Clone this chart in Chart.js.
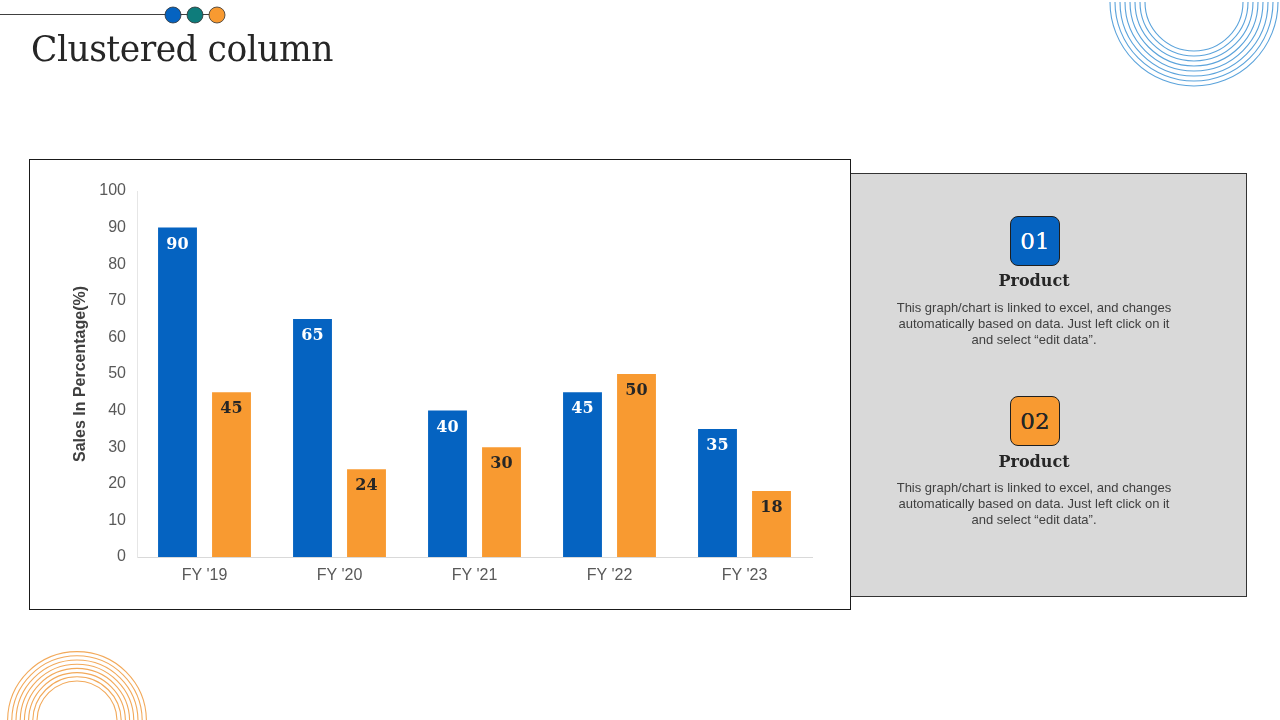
<!DOCTYPE html>
<html>
<head>
<meta charset="utf-8">
<script src="https://cdn.jsdelivr.net/npm/chart.js@4.4.0/dist/chart.umd.min.js"></script>
<style>
  html, body { margin:0; padding:0; background:#fff; }
  body { width:1280px; height:720px; position:relative; overflow:hidden; font-family:"Liberation Sans", Arial, sans-serif; }
  #deco { position:absolute; left:0; top:0; }
  .title { position:absolute; left:31px; top:29px; font-family:"DejaVu Serif", serif; font-size:34.5px; color:#262626; letter-spacing:-0.5px; }
  .chartbox { position:absolute; left:29px; top:159px; width:820px; height:449px; border:1px solid #1a1a1a; background:#fff; }
  .chartbox canvas { position:absolute; left:0; top:0; }
  .panel { position:absolute; left:851px; top:173px; width:395px; height:422px; background:#d9d9d9; border:1px solid #333; border-left:none; }
  .badge { position:absolute; width:48px; height:48px; border:1px solid #1f1f1f; border-radius:8px; font-family:"DejaVu Serif", serif; font-size:23px; text-align:center; line-height:48px; text-shadow:0 0 0.6px currentColor; }
  .prod { position:absolute; width:396px; left:-15px; text-align:center; font-family:"DejaVu Serif", serif; font-weight:bold; font-size:16px; color:#262626; }
  .desc { position:absolute; width:396px; left:-15px; text-align:center; font-size:13px; line-height:16px; color:#404040; }
</style>
</head>
<body>
<canvas id="deco" width="1280" height="720"></canvas>
<div class="title">Clustered column</div>
<div class="chartbox"><canvas id="c" width="820" height="449" style="width:820px;height:449px;"></canvas></div>
<div class="panel">
  <div class="badge" style="left:159px; top:42px; background:#0563C1; color:#fff;">01</div>
  <div class="prod" style="top:97px;">Product</div>
  <div class="desc" style="top:126px;">This graph/chart is linked to excel, and changes<br>automatically based on data. Just left click on it<br>and select “edit data”.</div>
  <div class="badge" style="left:159px; top:222px; background:#F89A31; color:#262626;">02</div>
  <div class="prod" style="top:278px;">Product</div>
  <div class="desc" style="top:306px;">This graph/chart is linked to excel, and changes<br>automatically based on data. Just left click on it<br>and select “edit data”.</div>
</div>
<script>
const categories = ["FY '19", "FY '20", "FY '21", "FY '22", "FY '23"];
const product1 = [90, 65, 40, 45, 35];
const product2 = [45, 24, 30, 50, 18];
const yTicks = [0, 10, 20, 30, 40, 50, 60, 70, 80, 90, 100];

// decorations
(function(){
  const d = document.getElementById('deco').getContext('2d');
  d.strokeStyle = '#404040'; d.lineWidth = 1.2;
  d.beginPath(); d.moveTo(0, 14.5); d.lineTo(212, 14.5); d.stroke();
  const dots = [[173,'#0563C1'],[195,'#0E7C7B'],[217,'#F89A31']];
  dots.forEach(([x,c])=>{ d.beginPath(); d.arc(x,15,8,0,Math.PI*2); d.fillStyle=c; d.fill(); d.strokeStyle='#333'; d.lineWidth=0.8; d.stroke(); });
  d.lineWidth = 1.1;
  d.strokeStyle = '#5BA3DB';
  for (let i=0;i<8;i++){ d.beginPath(); d.arc(1194, 2, 49+i*5, 0, Math.PI); d.stroke(); }
  d.strokeStyle = '#F2A95A';
  for (let i=0;i<8;i++){ d.beginPath(); d.arc(77, 721, 40+i*4.2, Math.PI, Math.PI*2); d.stroke(); }
})();

const labelPlugin = {
  id: 'barLabels',
  afterDatasetsDraw(chart) {
    const ctx = chart.ctx;
    chart.data.datasets.forEach((ds, di) => {
      const meta = chart.getDatasetMeta(di);
      meta.data.forEach((bar, i) => {
        ctx.save();
        ctx.font = 'bold 16px "DejaVu Serif", serif';
        ctx.fillStyle = di === 0 ? '#ffffff' : '#262626';
        ctx.textAlign = 'center';
        ctx.textBaseline = 'middle';
        ctx.fillText(String(ds.data[i]), bar.x, bar.y + 17);
        ctx.restore();
      });
    });
  }
};

new Chart(document.getElementById('c'), {
  type: 'bar',
  data: {
    labels: categories,
    datasets: [
      { label: 'Product 01', data: product1, backgroundColor: '#0563C1' },
      { label: 'Product 02', data: product2, backgroundColor: '#F89A31' }
    ]
  },
  options: {
    responsive: false,
    animation: false,
    devicePixelRatio: 1,
    layout: { padding: { left: 0, right: 38, top: 31, bottom: 0 } },
    plugins: { legend: { display: false }, tooltip: { enabled: false } },
    datasets: { bar: { categoryPercentage: 0.8, barPercentage: 0.72 } },
    scales: {
      x: {
        grid: { display: false, drawTicks: false },
        border: { display: true, color: '#D9D9D9', width: 1 },
        ticks: { color: '#595959', font: { family: '"Liberation Sans", Arial', size: 16 }, padding: 9, maxRotation: 0, autoSkip: false },
        afterFit(s) { s.height = 52; }
      },
      y: {
        min: 0, max: 100,
        afterBuildTicks(s) { s.ticks = yTicks.map(v => ({ value: v })); },
        grid: { display: false, drawTicks: false },
        border: { display: true, color: '#E6E6E6', width: 1 },
        ticks: { color: '#595959', font: { family: '"Liberation Sans", Arial', size: 16 }, padding: 11, autoSkip: false },
        title: { display: true, text: 'Sales In Percentage(%)', color: '#404040', font: { family: '"Liberation Sans", Arial', size: 16, weight: 'bold' }, padding: { top: 41, bottom: 0 } },
        afterFit(s) { s.width = 107; }
      }
    }
  },
  plugins: [labelPlugin]
});
</script>
</body>
</html>
